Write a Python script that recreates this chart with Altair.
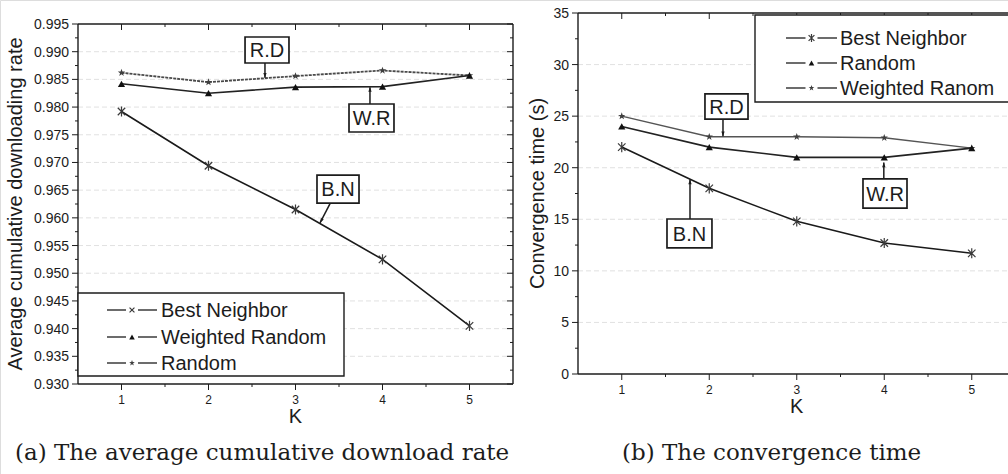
import altair as alt
import pandas as pd

# ---------------------------------------------------------------- data
K = [1, 2, 3, 4, 5]

# (a) average cumulative downloading rate
rate_best_neighbor = [0.9792, 0.9694, 0.9615, 0.9525, 0.9405]
rate_weighted_random = [0.9842, 0.9825, 0.9836, 0.9837, 0.9857]
rate_random = [0.9862, 0.9845, 0.9856, 0.9866, 0.9857]

# (b) convergence time in seconds
time_best_neighbor = [22.0, 18.0, 14.8, 12.7, 11.7]
time_random = [24.0, 22.0, 21.0, 21.0, 21.9]
time_weighted = [25.0, 23.0, 23.0, 22.9, 21.9]

rate_ticks = [0.930, 0.935, 0.940, 0.945, 0.950, 0.955, 0.960,
              0.965, 0.970, 0.975, 0.980, 0.985, 0.990, 0.995]
time_ticks = [0, 5, 10, 15, 20, 25, 30, 35]

legend_a = ["Best Neighbor", "Weighted Random", "Random"]
legend_b = ["Best Neighbor", "Random", "Weighted Ranom"]
title_a = "Average cumulative downloading rate"
title_b = "Convergence time (s)"
x_title = "K"
caption_a = "(a) The average cumulative download rate"
caption_b = "(b) The convergence time"

# ---------------------------------------------------------------- style
INK = "#1c1c1c"
SANS = "Liberation Sans"
SERIF = "DejaVu Serif"
W, H = 1008, 474

# pixel placement of each plot area: (left, right), (bottom, top)
A_X, A_Y = (78, 513), (384, 24)
B_X, B_Y = (578, 1015.5), (374, 13)

CROSS = "M-1,-1L1,1M-1,1L1,-1"
ASTER = "M-1,-1L1,1M-1,1L1,-1M0,-1.35L0,1.35"
STAR = ("M0,-1L0.24,-0.32L0.95,-0.31L0.38,0.12L0.59,0.81L0,0.4"
        "L-0.59,0.81L-0.38,0.12L-0.95,-0.31L-0.24,-0.32Z")
HEAD = "M0,0L-0.6,-1.7L0.6,-1.7Z"  # arrow head, tip at origin, pointing down

MARKERS = {
    "aster": dict(shape=ASTER, filled=False, color="#3a3a3a", size=56, strokeWidth=1.2),
    "cross": dict(shape=CROSS, filled=False, color="#3a3a3a", size=40, strokeWidth=1.2),
    "tri": dict(shape="triangle-up", filled=True, color="#111111", size=52),
    "star": dict(shape=STAR, filled=True, color="#3f3f3f", size=60),
}

one = pd.DataFrame({"a": [0]})


def scales(xr, yr, ydom):
    xs = alt.Scale(domain=[0.5, 5.5], range=list(xr), nice=False, zero=False)
    ys = alt.Scale(domain=list(ydom), range=list(yr), nice=False, zero=False)
    return xs, ys


def series(xs, ys, values, color, width, marker, dash=None):
    df = pd.DataFrame({"k": K, "v": values})
    line_kw = dict(color=color, strokeWidth=width)
    if dash:
        line_kw["strokeDash"] = dash
    enc = dict(x=alt.X("k:Q", scale=xs, axis=None), y=alt.Y("v:Q", scale=ys, axis=None))
    line = alt.Chart(df).mark_line(**line_kw).encode(**enc)
    pts = alt.Chart(df).mark_point(opacity=1, **MARKERS[marker]).encode(**enc)
    return [line, pts]


def frame(xs, ys, xr, yr, ydom, yticks, yfmt, ytitle, ytitle_x, right_side=True):
    """Axis lines, ticks, tick labels and titles of one panel."""
    out = []
    xmin = [k + 0.5 for k in K[:-1]]
    ymin = [(a + b) / 2 for a, b in zip(yticks[:-1], yticks[1:])]
    xf = lambda f: alt.X(f"{f}:Q", scale=xs, axis=None)
    yf = lambda f: alt.Y(f"{f}:Q", scale=ys, axis=None)
    right_px = min(xr[1], W)
    tick = dict(color=INK, strokeWidth=1)
    edge = dict(color=INK, strokeWidth=1.4)

    # faint horizontal guide lines
    g = pd.DataFrame({"v": yticks[1:-1]})
    out.append(alt.Chart(g).mark_rule(color="#d4d4d4", strokeWidth=1, strokeDash=[5, 3],
                                      opacity=0.7).encode(
        x=alt.value(xr[0]), x2=alt.value(right_px), y=yf("v")))

    # bottom and top edges
    for v in (ydom[0], ydom[1]):
        e = pd.DataFrame({"k": [0.5], "k2": [5.5], "v": [v]})
        out.append(alt.Chart(e).mark_rule(**edge).encode(x=xf("k"), x2="k2", y=yf("v")))
    # left edge
    e = pd.DataFrame({"k": [0.5], "v": [ydom[0]], "v2": [ydom[1]]})
    out.append(alt.Chart(e).mark_rule(**edge).encode(x=xf("k"), y=yf("v"), y2="v2"))

    kdf = pd.DataFrame({"k": K, "t": [str(k) for k in K]})
    mdf = pd.DataFrame({"k": xmin})
    # x ticks: outward at the bottom, inward at the top
    out.append(alt.Chart(kdf).mark_rule(**tick).encode(
        x=xf("k"), y=alt.value(yr[0]), y2=alt.value(yr[0] + 6)))
    out.append(alt.Chart(mdf).mark_rule(**tick).encode(
        x=xf("k"), y=alt.value(yr[0]), y2=alt.value(yr[0] + 3)))
    out.append(alt.Chart(kdf).mark_rule(**tick).encode(
        x=xf("k"), y=alt.value(yr[1]), y2=alt.value(yr[1] + 6)))
    out.append(alt.Chart(mdf).mark_rule(**tick).encode(
        x=xf("k"), y=alt.value(yr[1]), y2=alt.value(yr[1] + 3)))
    # x tick labels and title
    out.append(alt.Chart(kdf).mark_text(font=SANS, fontSize=12, color=INK,
                                        baseline="top").encode(
        x=xf("k"), y=alt.value(yr[0] + 11), text="t:N"))
    out.append(alt.Chart(pd.DataFrame({"t": [x_title]})).mark_text(
        font=SANS, fontSize=20, color=INK, baseline="top").encode(
        x=alt.value((xr[0] + xr[1]) / 2), y=alt.value(yr[0] + 23), text="t:N"))

    # y ticks (outward on the left)
    ydf = pd.DataFrame({"v": yticks, "t": [format(v, yfmt) for v in yticks]})
    ymdf = pd.DataFrame({"v": ymin})
    out.append(alt.Chart(ydf).mark_rule(**tick).encode(
        x=alt.value(xr[0] - 6), x2=alt.value(xr[0]), y=yf("v")))
    out.append(alt.Chart(ymdf).mark_rule(**tick).encode(
        x=alt.value(xr[0] - 3), x2=alt.value(xr[0]), y=yf("v")))
    out.append(alt.Chart(ydf).mark_text(font=SANS, fontSize=14, color=INK, align="right",
                                        baseline="middle", dy=1).encode(
        x=alt.value(xr[0] - 9), y=yf("v"), text="t:N"))
    out.append(alt.Chart(pd.DataFrame({"t": [ytitle]})).mark_text(
        font=SANS, fontSize=20, color=INK, angle=270, baseline="middle").encode(
        x=alt.value(ytitle_x), y=alt.value((yr[0] + yr[1]) / 2), text="t:N"))

    if right_side:
        e = pd.DataFrame({"k": [5.5], "v": [ydom[0]], "v2": [ydom[1]]})
        out.append(alt.Chart(e).mark_rule(**edge).encode(x=xf("k"), y=yf("v"), y2="v2"))
        out.append(alt.Chart(ydf).mark_rule(**tick).encode(
            x=alt.value(xr[1] - 6), x2=alt.value(xr[1]), y=yf("v")))
        out.append(alt.Chart(ymdf).mark_rule(**tick).encode(
            x=alt.value(xr[1] - 3), x2=alt.value(xr[1]), y=yf("v")))
    return out


def callout(xs, ys, label, box, text_at, start, tip, angle):
    xf = lambda f: alt.X(f"{f}:Q", scale=xs, axis=None)
    yf = lambda f: alt.Y(f"{f}:Q", scale=ys, axis=None)
    b = pd.DataFrame({"x": [box[0]], "x2": [box[1]], "y": [box[2]], "y2": [box[3]]})
    t = pd.DataFrame({"x": [text_at[0]], "y": [text_at[1]], "t": [label]})
    seg = pd.DataFrame({"x": [start[0]], "x2": [tip[0]], "y": [start[1]], "y2": [tip[1]]})
    head = pd.DataFrame({"x": [tip[0]], "y": [tip[1]]})
    return [
        alt.Chart(seg).mark_rule(color=INK, strokeWidth=1.5).encode(
            x=xf("x"), x2="x2", y=yf("y"), y2="y2"),
        alt.Chart(head).mark_point(shape=HEAD, filled=True, color=INK, size=30,
                                   angle=angle, opacity=1).encode(x=xf("x"), y=yf("y")),
        alt.Chart(b).mark_rect(fill="white", stroke=INK, strokeWidth=1.7).encode(
            x=xf("x"), x2="x2", y=yf("y"), y2="y2"),
        alt.Chart(t).mark_text(font=SANS, fontSize=20, color=INK, baseline="middle",
                               dy=1).encode(x=xf("x"), y=yf("y"), text="t:N"),
    ]


def legend(box, rows, labels, markers, seg, text_x):
    out = [alt.Chart(one).mark_rect(fill="white", stroke=INK, strokeWidth=1.4).encode(
        x=alt.value(box[0]), x2=alt.value(box[1]), y=alt.value(box[2]), y2=alt.value(box[3]))]
    mid = (seg[0] + seg[1]) / 2
    for y, lab, m in zip(rows, labels, markers):
        for a, b in ((seg[0], mid - 6), (mid + 6, seg[1])):
            out.append(alt.Chart(one).mark_rule(color=INK, strokeWidth=1.3).encode(
                x=alt.value(a), x2=alt.value(b), y=alt.value(y)))
        kw = dict(MARKERS[m])
        kw["size"] = kw["size"] * 0.6
        out.append(alt.Chart(one).mark_point(opacity=1, **kw).encode(
            x=alt.value(mid), y=alt.value(y)))
        out.append(alt.Chart(pd.DataFrame({"t": [lab]})).mark_text(
            font=SANS, fontSize=20, color=INK, align="left", baseline="middle", dy=1).encode(
            x=alt.value(text_x), y=alt.value(y), text="t:N"))
    return out


# ---------------------------------------------------------------- panel (a)
xa, ya = scales(A_X, A_Y, (0.93, 0.995))
layers_a = frame(xa, ya, A_X, A_Y, (0.93, 0.995), rate_ticks, ".3f", title_a, 16)
layers_a += series(xa, ya, rate_random, "#4a4a4a", 1.8, "star", dash=[3, 1])
layers_a += series(xa, ya, rate_weighted_random, "#222222", 1.6, "tri")
layers_a += series(xa, ya, rate_best_neighbor, "#1a1a1a", 1.6, "aster")
layers_a += callout(xa, ya, "R.D", (2.42, 2.925, 0.98796, 0.99265), (2.672, 0.9903),
                    (2.649, 0.98796), (2.649, 0.9853), 0)
layers_a += callout(xa, ya, "W.R", (3.615, 4.132, 0.9755, 0.98056), (3.874, 0.97803),
                    (3.856, 0.98056), (3.856, 0.9836), 180)
layers_a += callout(xa, ya, "B.N", (3.247, 3.73, 0.96267, 0.96773), (3.489, 0.9652),
                    (3.40, 0.96267), (3.282, 0.9591), 30)
layers_a += legend((A_X[0], 344, 293, 376), [310, 337, 363], legend_a,
                   ["cross", "tri", "star"], (107, 157), 161)
panel_a = alt.layer(*layers_a)

# ---------------------------------------------------------------- panel (b)
xb, yb = scales(B_X, B_Y, (0, 35))
layers_b = frame(xb, yb, B_X, B_Y, (0, 35), time_ticks, "d", title_b, 538, right_side=False)
layers_b += series(xb, yb, time_weighted, "#555555", 1.4, "star")
layers_b += series(xb, yb, time_random, "#222222", 1.6, "tri")
layers_b += series(xb, yb, time_best_neighbor, "#1a1a1a", 1.6, "aster")
layers_b += callout(xb, yb, "R.D", (1.951, 2.443, 24.72, 27.15), (2.197, 25.93),
                    (2.157, 24.72), (2.157, 23.05), 0)
layers_b += callout(xb, yb, "W.R", (3.757, 4.26, 16.09, 18.91), (4.009, 17.5),
                    (3.995, 18.91), (3.995, 20.5), 180)
layers_b += callout(xb, yb, "B.N", (1.517, 2.031, 12.22, 15.03), (1.774, 13.62),
                    (1.78, 15.03), (1.78, 18.85), 180)
layers_b += legend((755, 1012, 15, 102), [38, 63, 88], legend_b,
                   ["aster", "tri", "star"], (786, 837), 840)
panel_b = alt.layer(*layers_b)

# ---------------------------------------------------------------- captions
captions = [
    alt.Chart(pd.DataFrame({"t": [caption_a]})).mark_text(
        font=SERIF, fontSize=23, color=INK, align="left", baseline="alphabetic").encode(
        x=alt.value(15), y=alt.value(460), text="t:N"),
    alt.Chart(pd.DataFrame({"t": [caption_b]})).mark_text(
        font=SERIF, fontSize=23, color=INK, align="left", baseline="alphabetic").encode(
        x=alt.value(622), y=alt.value(460), text="t:N"),
]

chart = alt.layer(panel_a, panel_b, *captions).resolve_scale(
    x="independent", y="independent"
).properties(
    width=W, height=H, padding=0, autosize=alt.AutoSizeParams(type="none")
).configure_view(stroke=None).configure(background="white")

chart.save("out.html", embed_options={"renderer": "svg", "actions": False})
